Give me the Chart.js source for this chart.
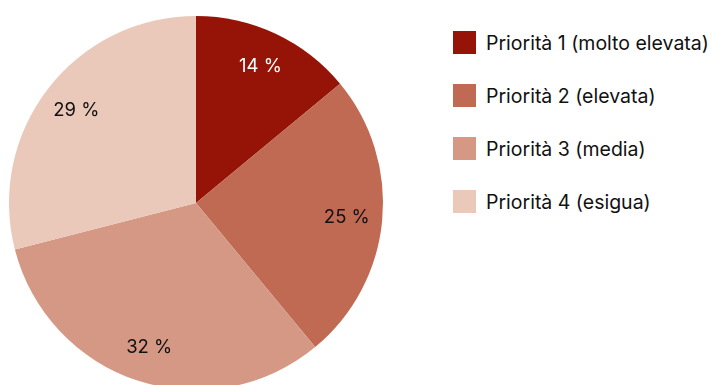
<!DOCTYPE html>
<html lang="it">
<head>
<meta charset="utf-8">
<script src="https://cdn.jsdelivr.net/npm/chart.js@4"></script>
<style>
  html, body { margin: 0; padding: 0; background: #fff; }
  body { width: 711px; height: 385px; overflow: hidden; position: relative; font-family: Inter, "Noto Sans", sans-serif; }
  #pie-box { position: absolute; left: 0; top: 0; width: 394px; height: 406px; }
  #legend { position: absolute; left: 453px; top: 31px; margin: 0; padding: 0; list-style: none; }
  #legend li { display: flex; align-items: center; height: 23px; margin-bottom: 30px; font-size: 19.5px; color: #111; white-space: nowrap; }
  #legend span.box { width: 23px; height: 23px; margin-right: 10px; flex: none; }
</style>
</head>
<body>
<div id="pie-box"><canvas id="myChart"></canvas></div>
<ul id="legend"></ul>
<script>
// priorities and their share in percent
const categories = ['Priorità 1 (molto elevata)', 'Priorità 2 (elevata)', 'Priorità 3 (media)', 'Priorità 4 (esigua)'];
const shares = [14, 25, 32, 29];
const sliceColors = ['#951407', '#c06a53', '#d49885', '#eac8ba'];
const labelColors = ['#ffffff', '#111111', '#111111', '#111111'];

// writes "NN %" inside each slice
const sliceLabels = {
    id: 'sliceLabels',
    afterDatasetsDraw(chart) {
        const ctx = chart.ctx;
        const meta = chart.getDatasetMeta(0);
        ctx.save();
        ctx.font = '18.5px Inter, "Noto Sans", sans-serif';
        ctx.textAlign = 'center';
        ctx.textBaseline = 'middle';
        meta.data.forEach((arc, i) => {
            const p = arc.getProps(['x', 'y', 'startAngle', 'endAngle', 'outerRadius'], true);
            const mid = (p.startAngle + p.endAngle) / 2;
            const r = p.outerRadius * 0.81;
            ctx.fillStyle = labelColors[i];
            ctx.fillText(shares[i] + ' %', p.x + Math.cos(mid) * r, p.y + Math.sin(mid) * r);
        });
        ctx.restore();
    }
};

window.onload = () => {
    const chart = new Chart(document.getElementById('myChart'), {
        type: 'pie',
        data: {
            labels: categories,
            datasets: [{
                data: shares,
                backgroundColor: sliceColors,
                borderWidth: 0
            }]
        },
        options: {
            responsive: true,
            maintainAspectRatio: false,
            animation: false,
            layout: { padding: { top: 16, bottom: 16, left: 9, right: 11 } },
            plugins: {
                legend: { display: false },
                tooltip: { enabled: false }
            }
        },
        plugins: [sliceLabels]
    });

    // legend list next to the pie
    const legend = document.getElementById('legend');
    chart.data.labels.forEach((label, i) => {
        const li = document.createElement('li');
        const box = document.createElement('span');
        box.className = 'box';
        box.style.background = chart.data.datasets[0].backgroundColor[i];
        li.appendChild(box);
        li.appendChild(document.createTextNode(label));
        legend.appendChild(li);
    });
};
</script>
</body>
</html>
